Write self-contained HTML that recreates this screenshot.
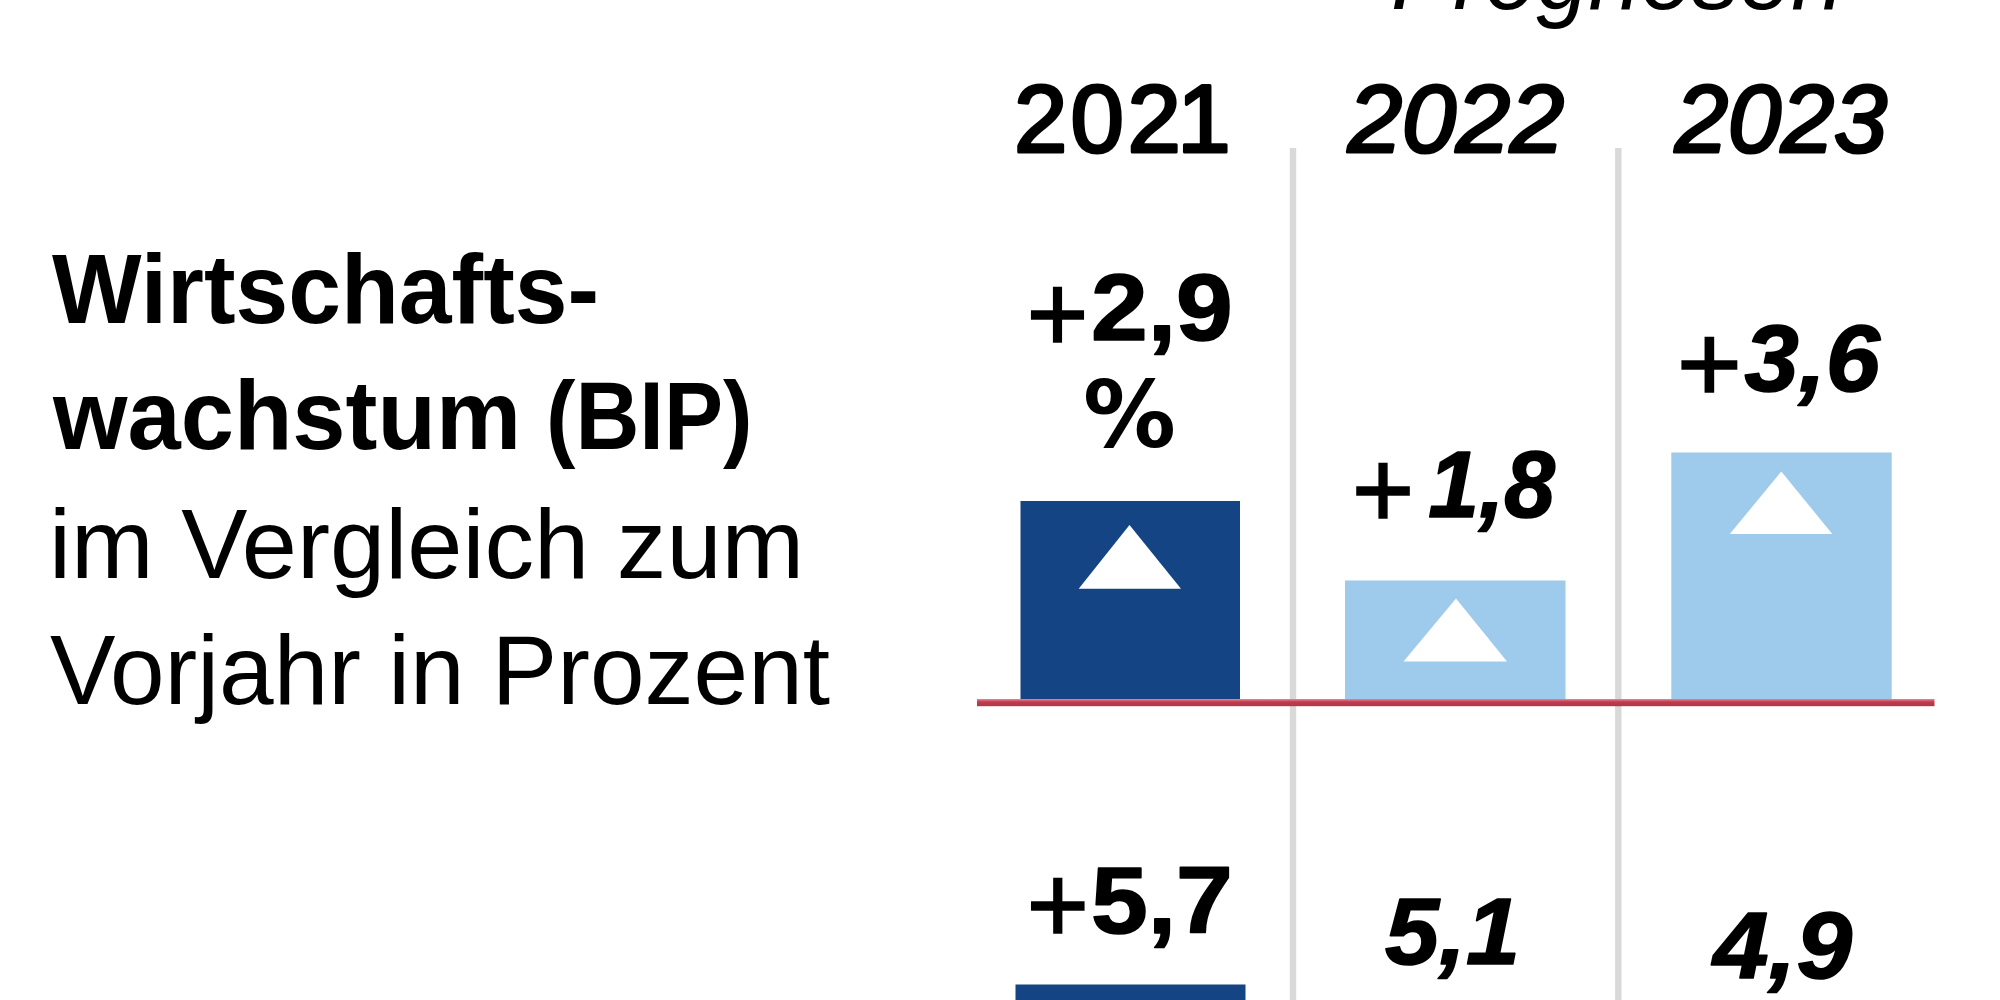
<!DOCTYPE html>
<html lang="de">
<head>
<meta charset="utf-8">
<title>Wirtschaftswachstum (BIP)</title>
<style>
html,body{margin:0;padding:0;background:#fff;}
body{width:2000px;height:1000px;overflow:hidden;position:relative;}
svg{position:absolute;left:-40px;top:-40px;display:block;filter:blur(0.7px);}
text{font-family:"Liberation Sans",sans-serif;fill:#000;}
.b{font-weight:bold;}
.i{font-style:italic;}
.m{stroke:#000;stroke-width:3.2px;stroke-linejoin:round;}
.h{stroke:#000;stroke-width:1.6px;stroke-linejoin:round;}
.p{stroke:#000;stroke-width:1.6px;stroke-linejoin:miter;}
.q{font-family:"DejaVu Sans Condensed","DejaVu Sans","Liberation Sans",sans-serif;font-weight:bold;}
.k{}
</style>
</head>
<body>
<svg width="2080" height="1080" viewBox="-40 -40 2080 1080">
<rect x="-40" y="-40" width="2080" height="1080" fill="#ffffff"/>

<!-- column separators -->
<rect x="1289.8" y="148" width="6.4" height="900" fill="#d9d9d9"/>
<rect x="1615.1" y="148" width="6.4" height="900" fill="#d9d9d9"/>

<!-- bars -->
<rect x="1020.5" y="501" width="219.5" height="199" fill="#144483"/>
<rect x="1345" y="580.5" width="220.5" height="119.5" fill="#9ecaec"/>
<rect x="1671.3" y="452.5" width="220.4" height="247.5" fill="#9ecaec"/>
<rect x="1015.5" y="984.5" width="230" height="60" fill="#144483"/>

<!-- triangles -->
<polygon points="1129.5,525 1181,588.7 1078.7,588.7" fill="#ffffff"/>
<polygon points="1456,598.5 1507,661.5 1403.5,661.5" fill="#ffffff"/>
<polygon points="1781.3,471.4 1832.3,534 1729.8,534" fill="#ffffff"/>

<!-- zero line -->
<defs><linearGradient id="zl" x1="0" y1="0" x2="0" y2="1">
<stop offset="0" stop-color="#e58a95"/><stop offset="0.4" stop-color="#c23a4e"/><stop offset="1" stop-color="#b03648"/>
</linearGradient></defs>
<rect x="977" y="699" width="957.5" height="7.2" fill="url(#zl)"/>

<!-- header -->
<text class="i" id="t_prog" x="1390.9" y="9.2" font-size="96" textLength="452.3" lengthAdjust="spacingAndGlyphs">Prognosen</text>
<text class="m" id="t_2021" x="1013.9 1070.4 1127.6 1177.3" y="151.6" font-size="96">2021</text>
<text class="i m" id="t_2022" x="1348.0" y="151.6" font-size="96" textLength="216.0" lengthAdjust="spacingAndGlyphs">2022</text>
<text class="i m" id="t_2023" x="1675.0" y="151.6" font-size="96" textLength="212.0" lengthAdjust="spacingAndGlyphs">2023</text>

<!-- values -->
<text class="p" id="t_29p" x="1026.5" y="352.0" font-size="112" textLength="62.0" lengthAdjust="spacingAndGlyphs">+</text>
<text class="b h" id="t_29" x="1091.0" y="340.4" font-size="95" textLength="141.7" lengthAdjust="spacingAndGlyphs">2,9</text>
<text class="q" id="t_pct" x="1083.1" y="447.4" font-size="92" textLength="92.9" lengthAdjust="spacingAndGlyphs">%</text>
<text class="p" id="t_18p" x="1351.8" y="528.2" font-size="112" textLength="62.6" lengthAdjust="spacingAndGlyphs">+</text>
<text class="b i h" id="t_18" x="1428.3" y="516.8" font-size="95" textLength="126.8" lengthAdjust="spacingAndGlyphs">1,8</text>
<text class="p" id="t_36p" x="1676.7" y="402.2" font-size="112" textLength="65.3" lengthAdjust="spacingAndGlyphs">+</text>
<text class="b i h" id="t_36" x="1744.4" y="391.4" font-size="95" textLength="135.6" lengthAdjust="spacingAndGlyphs">3,6</text>
<text class="p" id="t_57p" x="1026.4" y="943.4" font-size="112" textLength="62.6" lengthAdjust="spacingAndGlyphs">+</text>
<text class="b h" id="t_57" x="1090.9" y="933" font-size="95" textLength="141.9" lengthAdjust="spacingAndGlyphs">5,7</text>
<text class="b i h" id="t_51" x="1385.0" y="964" font-size="95" textLength="135.2" lengthAdjust="spacingAndGlyphs">5,1</text>
<text class="b i h" id="t_49" x="1713.0" y="978" font-size="95" textLength="139.0" lengthAdjust="spacingAndGlyphs">4,9</text>

<!-- left caption -->
<text class="b k" id="t_l1" x="52.0" y="322.5" font-size="99" textLength="547.0" lengthAdjust="spacingAndGlyphs">Wirtschafts-</text>
<text class="b k" id="t_l2" x="53.0" y="449" font-size="99" textLength="468.0" lengthAdjust="spacingAndGlyphs">wachstum</text>
<text class="b k" id="t_l2b" x="545.9" y="449" font-size="97" textLength="206.6" lengthAdjust="spacingAndGlyphs">(BIP)</text>
<text id="t_l3" x="48.9" y="577.5" font-size="99" textLength="755.3" lengthAdjust="spacingAndGlyphs">im Vergleich zum</text>
<text id="t_l4" x="50.0" y="703.75" font-size="99" textLength="780.0" lengthAdjust="spacingAndGlyphs">Vorjahr in Prozent</text>
</svg>
</body>
</html>
